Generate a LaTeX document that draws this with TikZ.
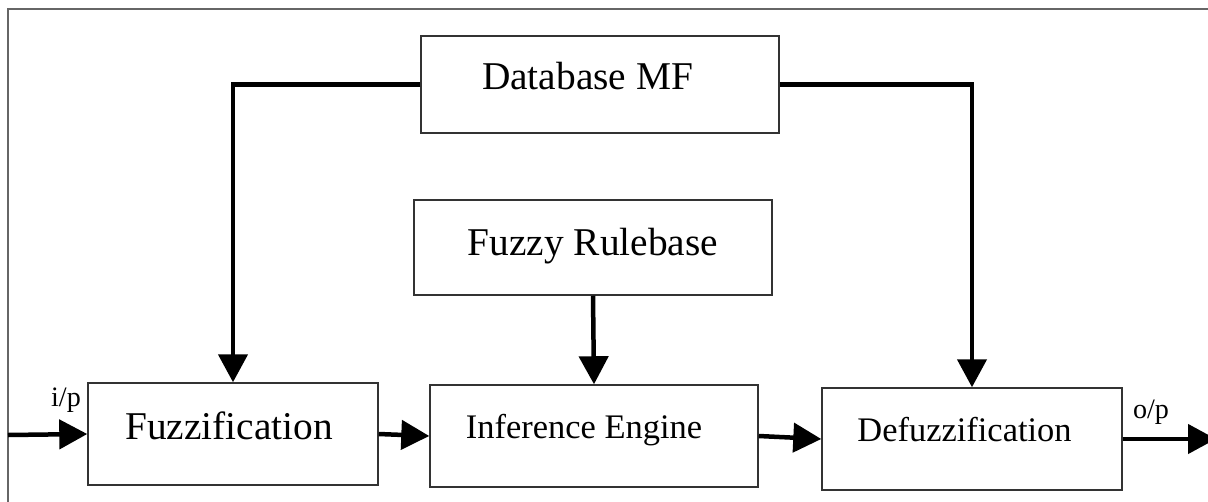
\documentclass[tikz,border=0pt]{standalone}
\usepackage{fontspec}
\setmainfont{Liberation Serif}
\usepackage{tikz}
\usetikzlibrary{arrows.meta}
\tikzstyle{arrow} = [-{Triangle[length=5.6mm,width=5.8mm]},line width=.09cm]
\tikzstyle{block} = [draw=black!80,line width=.03cm,minimum height=2.04cm,text height=.5cm,text depth=.3cm]
\newcommand{\bigfnt}{\fontsize{22.4}{26}\selectfont}
\newcommand{\midfnt}{\fontsize{19.6}{23}\selectfont}

\begin{document}
\begin{tikzpicture}[x=.02cm,y=-.02cm]
      \useasboundingbox(0,0)rectangle(1208,501);
      \clip(0,0)rectangle(1208,501);
      \draw[black!60,line width=.04cm](8,520)--(8,9)--(1230,9);
      % boxes
      \node[block,minimum width=7.16cm,minimum height=1.94cm,font=\bigfnt](db)at(600,84.5){Database MF\hspace*{.5cm}};
      \node[block,minimum width=7.16cm,minimum height=1.9cm,text depth=.2cm,font=\bigfnt](rule)at(593,247.5){Fuzzy Rulebase};
      \node[block,minimum width=5.8cm,font=\bigfnt](fuzz)at(233,434){Fuzzification\hspace*{.16cm}};
      \node[block,minimum width=6.56cm,text depth=.4cm,font=\midfnt](inf)at(594,436){Inference Engine\hspace*{.4cm}};
      \node[block,minimum width=6cm,text depth=.4cm,font=\midfnt](defuzz)at(972,439){Defuzzification\hspace*{.3cm}};
      \coordinate(in)at(8,435);
      \coordinate(out)at(1216,439);
      % connections
      \draw[arrow](db.west)-|(fuzz.north);
      \draw[arrow](db.east)-|(defuzz.north);
      \draw[arrow](rule.south)--(inf.north);
      \draw[arrow](in)--(fuzz.west);
      \draw[arrow](fuzz.east)--(inf.west);
      \draw[arrow](inf.east)--(defuzz.west);
      \draw[arrow](defuzz.east)--(out);
      \node[font=\fontsize{16}{18}\selectfont](ip)at(66,400){i/p};
      \node[font=\fontsize{16}{18}\selectfont](op)at(1151,412){o/p};
    \end{tikzpicture}
\end{document}
